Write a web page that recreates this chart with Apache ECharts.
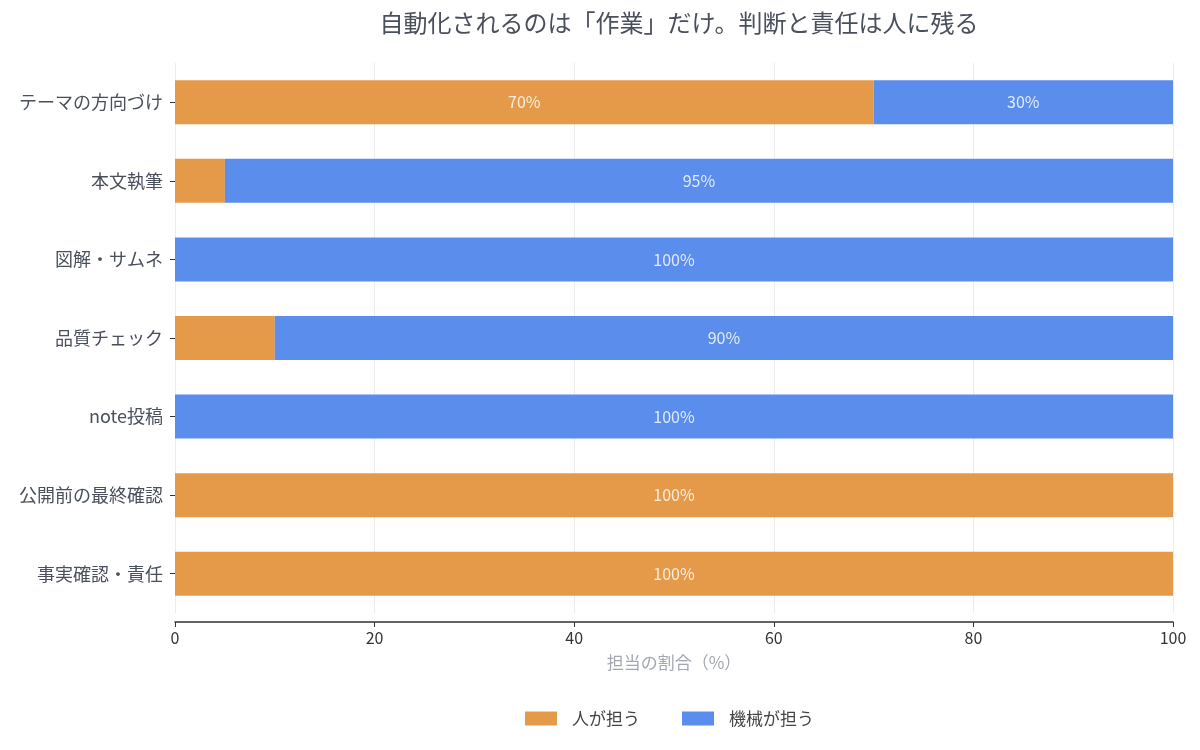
<!DOCTYPE html>
<html>
<head>
<meta charset="utf-8">
<script src="https://cdn.jsdelivr.net/npm/echarts@6/dist/echarts.min.js"></script>
<style>
  html, body { margin: 0; padding: 0; background: #fff; }
  #main { width: 1200px; height: 750px; }
</style>
</head>
<body>
<div id="main"></div>
<script>
// 工程ごとの担当割合（%）
const categories = ['テーマの方向づけ', '本文執筆', '図解・サムネ', '品質チェック', 'note投稿', '公開前の最終確認', '事実確認・責任']
const humanValues = [70, 5, 0, 10, 0, 100, 100]
const machineValues = [30, 95, 100, 90, 100, 0, 0]
const xTicks = [0, 20, 40, 60, 80, 100]

const FONT = '"Noto Sans CJK JP", "Noto Sans", sans-serif'

// 小さい区間はラベルを出さない
function pctLabel(p) {
  return p.value >= 15 ? p.value + '%' : ''
}

const chart = echarts.init(document.getElementById('main'))

const option = {
  backgroundColor: '#ffffff',
  textStyle: { fontFamily: FONT },
  title: {
    text: '自動化されるのは「作業」だけ。判断と責任は人に残る',
    left: 674,
    textAlign: 'center',
    top: 6,
    textStyle: { fontFamily: FONT, fontSize: 24, fontWeight: 'normal', color: '#4a4f5c' }
  },
  legend: {
    bottom: 18,
    left: 520,
    itemWidth: 32,
    itemHeight: 14,
    itemGap: 42,
    icon: 'rect',
    textStyle: { fontFamily: FONT, fontSize: 17, color: '#444', padding: [0, 0, 0, 10] },
    data: ['人が担う', '機械が担う']
  },
  grid: { left: 175, right: 27, top: 63, height: 550 },
  xAxis: {
    type: 'value',
    min: xTicks[0],
    max: xTicks[xTicks.length - 1],
    interval: 20,
    offset: 9,
    name: '担当の割合（%）',
    nameLocation: 'middle',
    nameGap: 32,
    nameTextStyle: { fontFamily: FONT, fontSize: 17, color: '#a3a7b4' },
    axisLine: { show: true, lineStyle: { color: '#333', width: 1.5 } },
    axisTick: { show: true, length: 5, lineStyle: { color: '#333' } },
    axisLabel: { fontFamily: FONT, fontSize: 16, color: '#333', margin: 8 },
    splitLine: { show: true, lineStyle: { color: '#ececec', width: 1 } }
  },
  yAxis: {
    type: 'category',
    inverse: true,
    data: categories,
    axisLine: { show: false },
    axisTick: { show: true, alignWithLabel: true, length: 5, lineStyle: { color: '#333' } },
    axisLabel: { fontFamily: FONT, fontSize: 18, color: '#4a4f5c', margin: 12 }
  },
  series: [
    {
      name: '人が担う',
      type: 'bar',
      stack: 'total',
      barWidth: '56%',
      data: humanValues,
      itemStyle: { color: '#e59a4a' },
      label: { show: true, position: 'inside', formatter: pctLabel, fontFamily: FONT, fontSize: 16, color: 'rgba(255,255,255,0.82)' }
    },
    {
      name: '機械が担う',
      type: 'bar',
      stack: 'total',
      barWidth: '56%',
      data: machineValues,
      itemStyle: { color: '#5b8dec' },
      label: { show: true, position: 'inside', formatter: pctLabel, fontFamily: FONT, fontSize: 16, color: 'rgba(255,255,255,0.82)' }
    }
  ]
}

chart.setOption(option)
</script>
</body>
</html>
